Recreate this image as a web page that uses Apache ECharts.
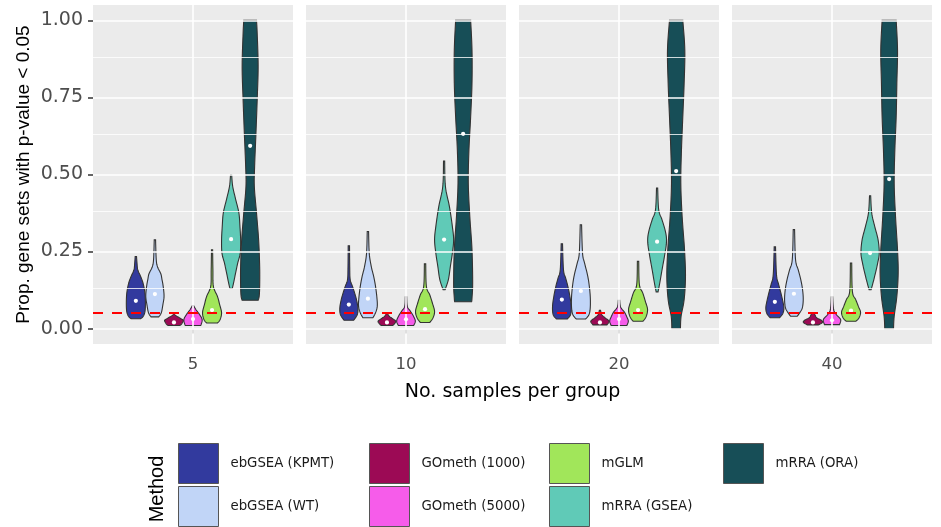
<!DOCTYPE html>
<html><head><meta charset="utf-8">
<script src="https://cdn.jsdelivr.net/npm/echarts@6/dist/echarts.min.js"></script>
<style>html,body{margin:0;padding:0;background:#fff}#c{width:941px;height:527px}</style>
</head><body><div id="c"></div>
<script>
// ---------------- data ----------------
const facets = ['5', '10', '20', '40'];
const methods = ['ebGSEA (KPMT)', 'ebGSEA (WT)', 'GOmeth (1000)', 'GOmeth (5000)', 'mGLM', 'mRRA (GSEA)', 'mRRA (ORA)'];
const colors = ['#323A9E', '#C1D5F7', '#9C0A55', '#F65CEA', '#A1E65A', '#60CAB7', '#174E57'];
const yBreaks = [0, 0.25, 0.5, 0.75, 1];
const yMinorBreaks = [0.125, 0.375, 0.625, 0.875];
const threshold = 0.05;
const yTitle = 'Prop. gene sets with p-value < 0.05';
const xTitle = 'No. samples per group';
const legendTitle = 'Method';

// medians (white dots) per facet, in method order
const medians5  = [0.090, 0.112, 0.020, 0.031, 0.060, 0.290, 0.593];
const medians10 = [0.078, 0.097, 0.020, 0.030, 0.063, 0.289, 0.632];
const medians20 = [0.094, 0.122, 0.020, 0.031, 0.060, 0.282, 0.511];
const medians40 = [0.087, 0.113, 0.020, 0.027, 0.058, 0.245, 0.485];

// violin outlines: [value, relative width] from bottom to top, per method
const violins5 = [
  [[.032,.5],[.040,.78],[.056,.96],[.083,1.0],[.116,.95],[.148,.75],[.170,.49],[.191,.2],[.213,.12],[.234,.07]],
  [[.038,.4],[.051,.67],[.078,.84],[.105,.96],[.137,.87],[.160,.74],[.178,.62],[.200,.28],[.224,.14],[.288,.07]],
  [[.010,.6],[.013,.75],[.020,.9],[.027,.98],[.033,.7],[.040,.3],[.045,.1],[.051,.06]],
  [[.010,.8],[.013,.85],[.029,.96],[.045,.7],[.062,.3],[.075,.06]],
  [[.018,.56],[.029,.84],[.051,1.0],[.078,.8],[.105,.56],[.137,.14],[.190,.09],[.256,.06]],
  [[.130,.12],[.148,.26],[.180,.47],[.213,.7],[.245,.96],[.288,1.0],[.331,.93],[.375,.82],[.418,.49],[.461,.17],[.499,.06]],
  [[.092,.84],[.105,.95],[.137,1.0],[.202,1.0],[.288,.89],[.375,.67],[.461,.44],[.526,.47],[.634,.61],[.742,.74],[.850,.84],[.958,.74],[1.0,.67]]
];
const violins10 = [
  [[.027,.5],[.045,.88],[.067,.95],[.094,.8],[.116,.6],[.137,.38],[.159,.14],[.200,.09],[.269,.07]],
  [[.035,.52],[.051,.8],[.072,.98],[.099,.95],[.137,.8],[.170,.6],[.202,.35],[.245,.14],[.315,.07]],
  [[.010,.6],[.016,.8],[.024,.93],[.032,.6],[.040,.25],[.049,.06]],
  [[.010,.8],[.024,.98],[.040,.79],[.056,.47],[.072,.14],[.103,.07]],
  [[.020,.5],[.035,.84],[.056,1.0],[.083,.77],[.110,.49],[.137,.14],[.210,.07]],
  [[.126,.1],[.159,.45],[.202,.66],[.245,.87],[.288,1.0],[.331,.87],[.396,.56],[.461,.14],[.544,.06]],
  [[.087,.89],[.099,.93],[.148,1.0],[.256,.93],[.364,.7],[.472,.54],[.580,.61],[.688,.79],[.796,.93],[.904,.93],[1.0,.79]]
];
const violins20 = [
  [[.031,.56],[.045,.91],[.072,.98],[.105,.84],[.137,.63],[.164,.4],[.191,.17],[.275,.07]],
  [[.031,.49],[.045,.84],[.067,.98],[.105,.98],[.148,.84],[.180,.65],[.213,.38],[.245,.17],[.337,.07]],
  [[.012,.73],[.024,.96],[.035,.53],[.045,.2],[.059,.06]],
  [[.010,.82],[.024,.98],[.038,.82],[.053,.58],[.070,.17],[.092,.07]],
  [[.024,.52],[.038,.84],[.062,1.0],[.088,.77],[.116,.49],[.143,.14],[.218,.07]],
  [[.119,.1],[.148,.28],[.191,.52],[.234,.77],[.278,.98],[.310,.91],[.353,.52],[.385,.17],[.456,.06]],
  [[0,.45],[.040,.52],[.094,.84],[.169,.98],[.256,.88],[.364,.63],[.472,.49],[.580,.56],[.688,.7],[.796,.84],[.904,.91],[1.0,.7]]
];
const violins40 = [
  [[.035,.49],[.049,.84],[.067,.95],[.088,.84],[.116,.63],[.143,.4],[.175,.17],[.265,.07]],
  [[.040,.35],[.051,.6],[.067,.88],[.094,.98],[.126,.91],[.159,.72],[.191,.45],[.224,.17],[.321,.07]],
  [[.012,.58],[.020,1.0],[.027,.88],[.035,.4],[.045,.2],[.049,.12]],
  [[.013,.79],[.029,.91],[.045,.47],[.062,.17],[.103,.07]],
  [[.024,.52],[.035,.84],[.053,1.0],[.072,.77],[.094,.49],[.121,.14],[.213,.07]],
  [[.126,.1],[.148,.3],[.180,.56],[.213,.8],[.245,.96],[.288,.84],[.331,.49],[.375,.17],[.431,.06]],
  [[0,.46],[.040,.53],[.105,.81],[.180,.95],[.256,.88],[.364,.67],[.472,.53],[.580,.6],[.688,.74],[.796,.81],[.904,.88],[1.0,.74]]
];

const medians = [medians5, medians10, medians20, medians40];
const violins = [violins5, violins10, violins20, violins40];

// ---------------- chart ----------------
const chart = echarts.init(document.getElementById('c'), null, {renderer: 'canvas'});

const PANEL_L = 93, PANEL_W = 200, PANEL_GAP = 13, PANEL_T = 5, PANEL_H = 339;
const DODGE = 0.8, EXPAND = 1.2;
const SANS_WIDE = 'DejaVu Sans';
const SANS = 'Liberation Sans';

function smoothSide(pts) {
  const out = [];
  const n = pts.length;
  for (let i = 0; i < n - 1; i++) {
    const p0 = pts[Math.max(i - 1, 0)], p1 = pts[i], p2 = pts[i + 1], p3 = pts[Math.min(i + 2, n - 1)];
    const steps = 8;
    for (let s = 0; s < steps; s++) {
      const t = s / steps, t2 = t * t, t3 = t2 * t;
      const f = (a, b, c, d) => 0.5 * ((2 * b) + (-a + c) * t + (2 * a - 5 * b + 4 * c - d) * t2 + (-a + 3 * b - 3 * c + d) * t3);
      out.push([f(p0[0], p1[0], p2[0], p3[0]), f(p0[1], p1[1], p2[1], p3[1])]);
    }
  }
  out.push(pts[n - 1]);
  return out;
}

function makeRender(fi, mi) {
  return function (params, api) {
    const base = api.coord([0, 0]);
    const band = api.size([1, 0])[0];
    const slot = band / EXPAND * DODGE / methods.length;
    const cx = base[0] + (mi - (methods.length - 1) / 2) * slot;
    const prof = violins[fi][mi];
    const right = smoothSide(prof.map(([v, w]) => [cx + w * slot / 2, api.coord([0, v])[1]]));
    const left = right.map(([x, y]) => [2 * cx - x, y]).reverse();
    const poly = right.concat(left);
    const med = api.coord([0, api.value(1)]);
    return {
      type: 'group',
      children: [
        {type: 'polygon', shape: {points: poly}, style: {fill: colors[mi], stroke: '#333333', lineWidth: 1.1}},
        {type: 'circle', shape: {cx: cx, cy: med[1], r: 2.1}, style: {fill: '#ffffff'}}
      ]
    };
  };
}

const grids = [], xAxes = [], yAxes = [], series = [];
facets.forEach((f, i) => {
  grids.push({left: PANEL_L + i * (PANEL_W + PANEL_GAP), top: PANEL_T, width: PANEL_W, height: PANEL_H,
    show: true, backgroundColor: '#EBEBEB', borderWidth: 0});
  xAxes.push({type: 'category', gridIndex: i, data: [f], boundaryGap: true,
    axisLine: {show: false},
    axisTick: {show: true, alignWithLabel: true, length: 5, lineStyle: {color: '#333333', width: 1.5}},
    axisLabel: {color: '#4D4D4D', fontSize: 16.5, margin: 12, fontFamily: SANS_WIDE},
    splitLine: {show: false}});
  yAxes.push({type: 'value', gridIndex: i, min: -0.05, max: 1.05,
    axisLine: {show: false}, splitLine: {show: false}, minorSplitLine: {show: false},
    axisTick: {show: i === 0, customValues: yBreaks, length: 5, lineStyle: {color: '#333333', width: 1.5}},
    axisLabel: {show: i === 0, customValues: yBreaks, formatter: v => Number(v).toFixed(2),
      color: '#4D4D4D', fontSize: 19, margin: 10, fontFamily: SANS_WIDE},
    name: i === 0 ? yTitle : '', nameLocation: 'middle', nameRotate: 90, nameGap: 60,
    nameTextStyle: {color: '#000', fontSize: 19, fontFamily: SANS}});

  series.push({type: 'line', xAxisIndex: i, yAxisIndex: i, data: [], z: 1, silent: true,
    markLine: {silent: true, symbol: ['none', 'none'], label: {show: false}, animation: false,
      data: yBreaks.map(v => ({yAxis: v, lineStyle: {color: '#ffffff', width: 1.6, type: 'solid'}}))
        .concat(yMinorBreaks.map(v => ({yAxis: v, lineStyle: {color: '#ffffff', width: 0.8, type: 'solid'}})))
        .concat([{xAxis: f, lineStyle: {color: '#ffffff', width: 1.6, type: 'solid'}}])}});

  methods.forEach((m, mi) => {
    series.push({type: 'custom', name: m, xAxisIndex: i, yAxisIndex: i, z: 3,
      itemStyle: {color: colors[mi], borderColor: '#333333', borderWidth: 1},
      data: [[0, medians[i][mi]]], renderItem: makeRender(i, mi), animation: false});
  });

  series.push({type: 'line', xAxisIndex: i, yAxisIndex: i, data: [], z: 6, silent: true,
    markLine: {silent: true, symbol: ['none', 'none'], label: {show: false}, animation: false,
      data: [{yAxis: threshold, lineStyle: {color: '#FF0000', width: 2.2, type: [10, 9]}}]}});
});

const legendCols = [[0, 1], [2, 3], [4, 5], [6]];
const legendLefts = [178, 369, 549, 723];
const legends = legendCols.map((col, k) => ({
  orient: 'vertical', left: legendLefts[k], top: 443, padding: 0,
  itemWidth: 40, itemHeight: 40, itemGap: 2, icon: 'rect', selectedMode: false,
  data: col.map(j => methods[j]),
  itemStyle: {borderColor: '#555555', borderWidth: 1},
  textStyle: {fontFamily: SANS_WIDE, fontSize: 13.3, color: '#1A1A1A', padding: [0, 0, 0, 7]}
}));

chart.setOption({
  animation: false,
  grid: grids, xAxis: xAxes, yAxis: yAxes, series: series, legend: legends,
  graphic: [
    {type: 'text', x: 512.5, y: 392, style: {text: xTitle, align: 'center', verticalAlign: 'middle',
      textAlign: 'center', textVerticalAlign: 'middle', fontSize: 19, fontFamily: SANS_WIDE, fill: '#000'}},
    {type: 'text', x: 157, y: 489, rotation: Math.PI / 2, style: {text: legendTitle, align: 'center', verticalAlign: 'middle',
      textAlign: 'center', textVerticalAlign: 'middle', fontSize: 20, fontFamily: SANS, fill: '#000'}}
  ]
});
</script></body></html>
